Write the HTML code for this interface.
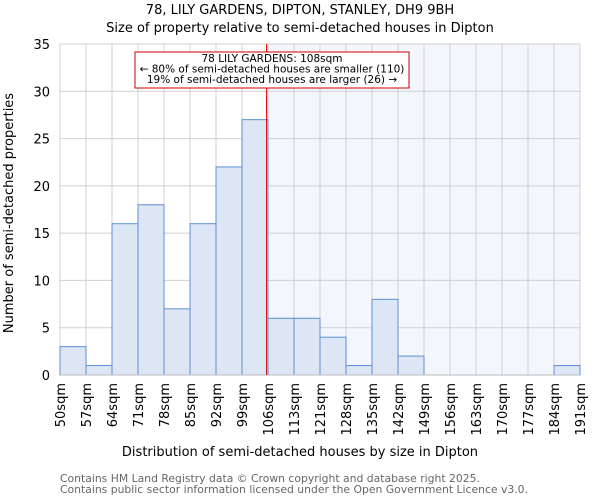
<!DOCTYPE html>
<html><head><meta charset="utf-8"><style>
body{margin:0;background:#fff;font-family:"DejaVu Sans","Liberation Sans",sans-serif;}
svg text{font-family:"DejaVu Sans","Liberation Sans",sans-serif;}
</style></head><body>
<svg id="chart" width="600" height="500" xmlns="http://www.w3.org/2000/svg">
<text x="300" y="14" text-anchor="middle" font-size="13" fill="#000">78, LILY GARDENS, DIPTON, STANLEY, DH9 9BH</text>
<text x="300" y="32" text-anchor="middle" font-size="13" fill="#000">Size of property relative to semi-detached houses in Dipton</text>
<g id="plot"></g>
<text x="300" y="456" text-anchor="middle" font-size="13">Distribution of semi-detached houses by size in Dipton</text>
<text transform="translate(13,213) rotate(-90)" text-anchor="middle" font-size="13">Number of semi-detached properties</text>
<text x="60" y="482" font-size="10.8" fill="#666">Contains HM Land Registry data © Crown copyright and database right 2025.</text>
<text x="60" y="493" font-size="10.8" fill="#666">Contains public sector information licensed under the Open Government Licence v3.0.</text>
</svg>
<script>
const binLabels=["50sqm","57sqm","64sqm","71sqm","78sqm","85sqm","92sqm","99sqm","106sqm","113sqm","121sqm","128sqm","135sqm","142sqm","149sqm","156sqm","163sqm","170sqm","177sqm","184sqm","191sqm"];
const counts=[3,1,16,18,7,16,22,27,6,6,4,1,8,2,0,0,0,0,0,1];
const yTicks=[0,5,10,15,20,25,30,35];
const propertySize=108;
const minSize=50, binStep=7.3;
const annotationLines=["78 LILY GARDENS: 108sqm","← 80% of semi-detached houses are smaller (110)","19% of semi-detached houses are larger (26) →"];

const NS="http://www.w3.org/2000/svg";
const L=60,R=580,T=44,B=375,yMax=35;
const bw=(R-L)/counts.length;
const xIdx=i=>L+i*bw;
const xVal=v=>L+(v-minSize)/binStep*bw;
const y=v=>B-(v/yMax)*(B-T);
const g=document.getElementById('plot');
function mk(tag,attrs){const e=document.createElementNS(NS,tag);for(const k in attrs)e.setAttribute(k,attrs[k]);g.appendChild(e);return e;}
const px=xVal(propertySize);
let e=mk('rect',{x:px,y:T,width:R-px,height:B-T,fill:'#f4f6fd'});


for(let i=0;i<=counts.length;i++){e=mk('line',{x1:xIdx(i),x2:xIdx(i),y1:T,y2:B,stroke:'#d0d0d0','stroke-width':1});

}
yTicks.forEach(t=>{e=mk('line',{x1:L,x2:R,y1:y(t),y2:y(t),stroke:'#d0d0d0','stroke-width':1});


e=mk('text',{x:L-10,y:y(t)+5,'text-anchor':'end','font-size':13});e.textContent=t;

});
counts.forEach((c,i)=>{if(c<=0)return;e=mk('rect',{x:xIdx(i),y:y(c),width:bw,height:B-y(c),fill:'#dce6f4',stroke:'#5b8fd6','stroke-width':1});

});
e=mk('line',{x1:L,x2:R,y1:B,y2:B,stroke:'#bbb','stroke-width':1});


binLabels.forEach((lab,i)=>{e=mk('text',{transform:`translate(${xIdx(i)+5},${B+8}) rotate(-90)`,'text-anchor':'end','font-size':13});e.textContent=lab;

});
e=mk('line',{x1:px,x2:px,y1:T,y2:B,stroke:'#dd0000','stroke-width':1});


e=mk('rect',{x:135,y:52,width:274,height:36,fill:'#fff',stroke:'#cc0000','stroke-width':1});


annotationLines.forEach((s,i)=>{e=mk('text',{x:272,y:62+i*10.5,'text-anchor':'middle','font-size':10.5});e.textContent=s;

});
</script>
</body></html>
